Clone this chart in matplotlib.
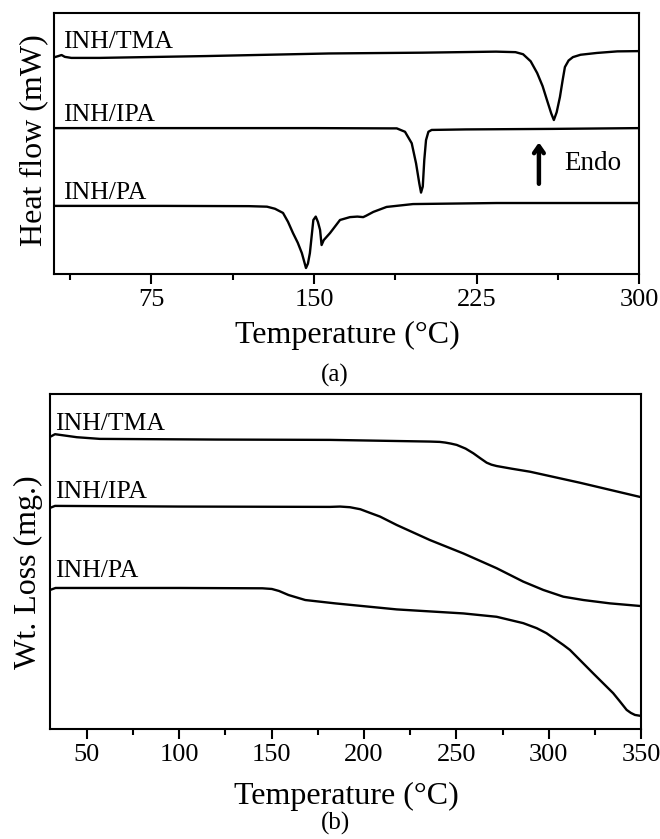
import matplotlib
matplotlib.use('Agg')
import matplotlib.pyplot as plt

plt.rcParams['font.family'] = ['Liberation Serif', 'DejaVu Serif']

# ---- DSC curves (a), heat flow in arbitrary units ----
dsc_tma_t = [30, 32, 33.5, 35, 38, 51, 100, 157, 200, 234, 243, 246.5, 250, 253, 255.5,
             257.5, 259.5, 260.7, 262, 263.5, 264.8, 265.8, 267.5, 269.5, 273, 280.6, 290, 300]
dsc_tma_hf = [83.0, 83.5, 83.9, 83.2, 82.8, 82.8, 83.5, 84.5, 84.8, 85.2, 85.0, 84.2, 81.5, 77.0, 72.0,
              66.7, 61.5, 59.0, 62.0, 67.8, 74.5, 79.3, 81.8, 83.1, 84.0, 84.7, 85.3, 85.4]

dsc_ipa_t = [30, 60, 100, 150, 185, 188.2, 192.0, 195.1, 197.1, 198.6, 199.4, 200.2, 200.9,
             201.7, 202.8, 204.3, 220, 260, 300]
dsc_ipa_hf = [55.9, 55.9, 55.9, 55.9, 55.8, 55.8, 54.5, 50.1, 42.4, 34.7, 31.2, 33.5, 43.7,
              51.3, 54.5, 55.2, 55.4, 55.6, 55.9]

dsc_pa_t = [30, 80, 120, 128.3, 132, 135.7, 138, 140.3, 142.5, 144.4, 146.3, 147.2, 148.1, 149.7,
            150.8, 151.8, 152.8, 153.5, 154.5, 157.4, 162, 166.6, 170, 172.7, 174, 177.4, 183.5,
            195.7, 234.3, 300]
dsc_pa_hf = [26.1, 26.1, 26.0, 25.8, 25.0, 23.4, 20.0, 15.7, 12.0, 8.0, 2.3, 4.0, 8.0, 20.7,
             22.0, 20.0, 16.9, 11.1, 13.0, 15.7, 20.7, 21.8, 22.0, 21.8, 22.3, 23.8, 25.7,
             26.8, 27.2, 27.2]

# ---- TGA curves (b), weight in arbitrary units ----
tga_tma_t = [30, 32.7, 44.5, 57, 120, 181.6, 235.7, 241, 244, 247, 250.2, 255, 259.2, 263,
             266.4, 269, 271.8, 280, 289.9, 317, 350]
tga_tma_w = [87.2, 88.0, 87.1, 86.6, 86.4, 86.3, 85.8, 85.7, 85.5, 85.2, 84.8, 83.7, 82.3, 80.8,
             79.5, 78.9, 78.5, 77.7, 76.8, 73.5, 69.2]

tga_ipa_t = [30, 32.7, 100, 181.6, 187, 192.4, 198, 203.3, 208.7, 217.7, 235.7, 253.8, 271.8,
             286.2, 297.1, 307.9, 318.8, 333.2, 350]
tga_ipa_w = [66.0, 66.6, 66.4, 66.3, 66.4, 66.2, 65.6, 64.5, 63.4, 60.9, 56.4, 52.4, 48.0,
             44.0, 41.5, 39.5, 38.5, 37.5, 36.7]

tga_pa_t = [30, 33, 100, 145, 150.1, 154, 159.1, 168.2, 184.4, 217.7, 253.8, 271.8, 286.2,
            293.5, 298.8, 307.9, 311.5, 324.1, 334.9, 338.3, 342.2, 344.5, 346.7, 350]
tga_pa_w = [41.5, 42.1, 42.1, 42.0, 41.8, 41.2, 40.0, 38.5, 37.5, 35.7, 34.5, 33.5, 31.6,
            30.1, 28.6, 25.1, 23.6, 16.6, 10.7, 8.4, 5.7, 4.8, 4.2, 3.9]

names = ['INH/TMA', 'INH/IPA', 'INH/PA']
dsc_label_y = [86.6, 58.6, 28.7]
tga_label_y = [89.3, 69.0, 45.4]

fig = plt.figure(figsize=(6.6, 8.39), dpi=100)
ax1 = fig.add_axes([0.0818, 0.6734, 0.8864, 0.3111])
ax2 = fig.add_axes([0.0758, 0.1311, 0.8955, 0.3993])

lw = 1.7
ax1.plot(dsc_tma_t, dsc_tma_hf, color='black', lw=lw)
ax1.plot(dsc_ipa_t, dsc_ipa_hf, color='black', lw=lw)
ax1.plot(dsc_pa_t, dsc_pa_hf, color='black', lw=lw)
for name, ly in zip(names, dsc_label_y):
    ax1.text(34.2, ly, name, fontsize=18.5, va='baseline', ha='left')

# endo arrow
ax1.annotate('', xy=(253.8, 51.5), xytext=(253.8, 33.5),
             arrowprops=dict(arrowstyle='->,head_length=0.5,head_width=0.35', lw=3.2, color='black'))
ax1.text(265.5, 42.5, 'Endo', fontsize=19.5, va='center', ha='left')

ax1.set_xlim(30, 300)
ax1.set_ylim(0, 100)
ax1.set_xticks([75, 150, 225, 300])
ax1.set_xticks([37.5, 112.5, 187.5, 262.5], minor=True)
ax1.set_yticks([])

ax2.plot(tga_tma_t, tga_tma_w, color='black', lw=lw)
ax2.plot(tga_ipa_t, tga_ipa_w, color='black', lw=lw)
ax2.plot(tga_pa_t, tga_pa_w, color='black', lw=lw)
for name, ly in zip(names, tga_label_y):
    ax2.text(32.7, ly, name, fontsize=18.5, va='baseline', ha='left')

ax2.set_xlim(30, 350)
ax2.set_ylim(0, 100)
ax2.set_xticks([50, 100, 150, 200, 250, 300, 350])
ax2.set_xticks([75, 125, 175, 225, 275, 325], minor=True)
ax2.set_yticks([])

for ax in (ax1, ax2):
    for s in ax.spines.values():
        s.set_linewidth(1.5)
    ax.tick_params(axis='x', which='major', direction='out', length=7, width=1.5,
                   labelsize=19, pad=4)
    ax.tick_params(axis='x', which='minor', direction='out', length=4, width=1.5)

fig.text(0.0508, 0.833, 'Heat flow (mW)', rotation=90, fontsize=23, ha='center', va='center')
fig.text(0.0424, 0.318, 'Wt. Loss (mg.)', rotation=90, fontsize=23, ha='center', va='center')
fig.text(0.5258, 0.600, 'Temperature (\u00b0C)', fontsize=23, ha='center', va='center')
fig.text(0.5076, 0.553, '(a)', fontsize=18, ha='center', va='center')
fig.text(0.525, 0.051, 'Temperature (\u00b0C)', fontsize=23, ha='center', va='center')
fig.text(0.5076, 0.018, '(b)', fontsize=18, ha='center', va='center')

fig.savefig('out.png', dpi=100)
